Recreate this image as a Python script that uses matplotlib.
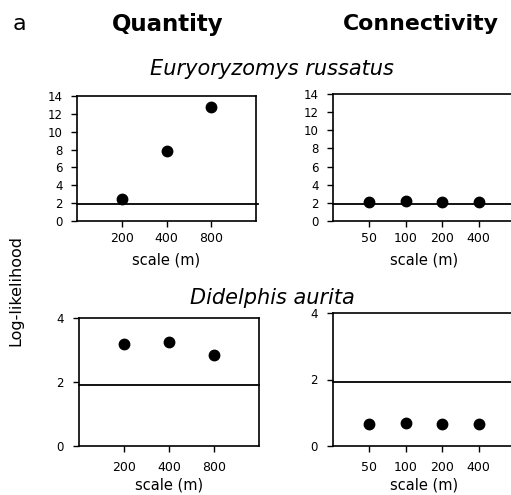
import matplotlib
matplotlib.use("Agg")
import matplotlib.pyplot as plt

plt.rcParams['font.family'] = ['DejaVu Sans']

# Data
quantity_scales = ["200", "400", "800"]
connectivity_scales = ["50", "100", "200", "400"]
euryoryzomys_quantity = [2.45, 7.85, 12.75]
euryoryzomys_connectivity = [2.1, 2.2, 2.1, 2.1]
didelphis_quantity = [3.2, 3.25, 2.85]
didelphis_connectivity = [0.65, 0.68, 0.66, 0.66]
threshold = 1.92

W, H = 511, 495
fig = plt.figure(figsize=(W / 100, H / 100), dpi=100)


def add_ax(left, right, top, bottom):
    return fig.add_axes([left / W, 1 - bottom / H, (right - left) / W, (bottom - top) / H])


def style(ax, cats, vals, ylim, yticks, xmax, hl_ext, xpad, lpad):
    xs = list(range(1, len(cats) + 1))
    ax.plot(xs, vals, 'o', color='black', ms=7.5, clip_on=False, zorder=3)
    ax.axhline(threshold, color='black', lw=1.3, xmax=hl_ext, clip_on=False)
    ax.set_xlim(0, xmax)
    ax.set_ylim(*ylim)
    ax.set_xticks(xs)
    ax.set_xticklabels(cats)
    ax.set_yticks(yticks)
    for s in ax.spines.values():
        s.set_linewidth(1.2)
    ax.tick_params(direction='out', length=4, width=1.0)
    ax.tick_params(axis='x', labelsize=9, pad=xpad)
    ax.tick_params(axis='y', labelsize=8.5, pad=6.5)
    ax.set_xlabel("scale (m)", fontsize=10.5, labelpad=lpad)


ax1 = add_ax(77, 256, 96, 221)
style(ax1, quantity_scales, euryoryzomys_quantity, (0, 14), range(0, 15, 2), 4, 1.012, 4, 5)
ax2 = add_ax(333, 515, 94, 221)
style(ax2, connectivity_scales, euryoryzomys_connectivity, (0, 14), range(0, 15, 2), 5, 1.0, 4, 5)
ax3 = add_ax(78.7, 259, 318, 446)
style(ax3, quantity_scales, didelphis_quantity, (0, 4), [0, 2, 4], 4, 1.0, 6.5, 3)
ax4 = add_ax(332.7, 515, 313, 446)
style(ax4, connectivity_scales, didelphis_connectivity, (0, 4), [0, 2, 4], 5, 1.0, 6.5, 3)

fig.text(19 / W, 1 - 24 / H, "a", fontsize=16, ha='center', va='center')
fig.text(168 / W, 1 - 24 / H, "Quantity", fontsize=16.5, fontweight='bold', ha='center', va='center')
fig.text(421 / W, 1 - 24 / H, "Connectivity", fontsize=15.8, fontweight='bold', ha='center', va='center')
fig.text(272 / W, 1 - 69 / H, "Euryoryzomys russatus", fontsize=15, style='italic', ha='center', va='center')
fig.text(272 / W, 1 - 298 / H, "Didelphis aurita", fontsize=15, style='italic', ha='center', va='center')
fig.text(16 / W, 1 - 291 / H, "Log-likelihood", fontsize=11.5, rotation=90, ha='center', va='center')

fig.savefig("out.png", dpi=100)
